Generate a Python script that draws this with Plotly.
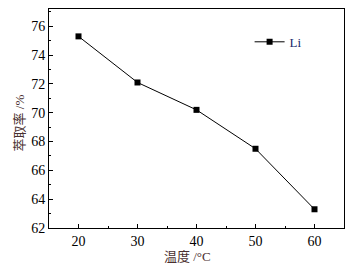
import plotly.graph_objects as go

temps = [20, 30, 40, 50, 60]
li_rate = [75.3, 72.1, 70.2, 67.5, 63.3]
series_name = "Li"
x_title = "温度 /°C"
y_title = "萃取率 /%"

fig = go.Figure()
fig.add_trace(go.Scatter(
    x=temps, y=li_rate, name=series_name, mode="lines+markers",
    line=dict(color="black", width=1),
    marker=dict(symbol="square", size=6, color="black"),
))

axis_common = dict(
    showline=True, linecolor="black", linewidth=1, mirror=True,
    ticks="inside", ticklen=4, tickcolor="black", showgrid=False, zeroline=False,
    tickfont=dict(family="Liberation Serif, Times New Roman, serif", size=14, color="black"),
)
fig.update_xaxes(range=[15, 65], tickvals=[20, 30, 40, 50, 60],
                 minor=dict(ticks="inside", ticklen=2, tickcolor="black", dtick=5, tick0=15),
                 **axis_common)
fig.update_yaxes(range=[62, 77.2], tickvals=[62, 64, 66, 68, 70, 72, 74, 76],
                 minor=dict(ticks="inside", ticklen=2, tickcolor="black", dtick=1, tick0=62),
                 **axis_common)

title_font = dict(family="Liberation Serif, Noto Sans CJK SC, serif", size=13, color="#4a3030")
fig.add_annotation(text=x_title, xref="paper", yref="paper", x=0.47, y=-0.13,
                   xanchor="center", yanchor="middle", showarrow=False, font=title_font)
fig.add_annotation(text=y_title, xref="paper", yref="paper", x=-0.1, y=0.48,
                   xanchor="center", yanchor="middle", showarrow=False, textangle=-90, font=title_font)

fig.update_layout(
    width=354, height=267,
    margin=dict(l=49, r=10, t=9, b=39),
    paper_bgcolor="white", plot_bgcolor="white",
    showlegend=True,
    legend=dict(x=0.68, y=0.85, xanchor="left", yanchor="middle", bgcolor="rgba(0,0,0,0)",
                font=dict(family="Liberation Serif, serif", size=13, color="#1a2a6a")),
)
fig.write_html("out.html", config={"displayModeBar": False},
               post_script="document.body.style.margin='0';")
